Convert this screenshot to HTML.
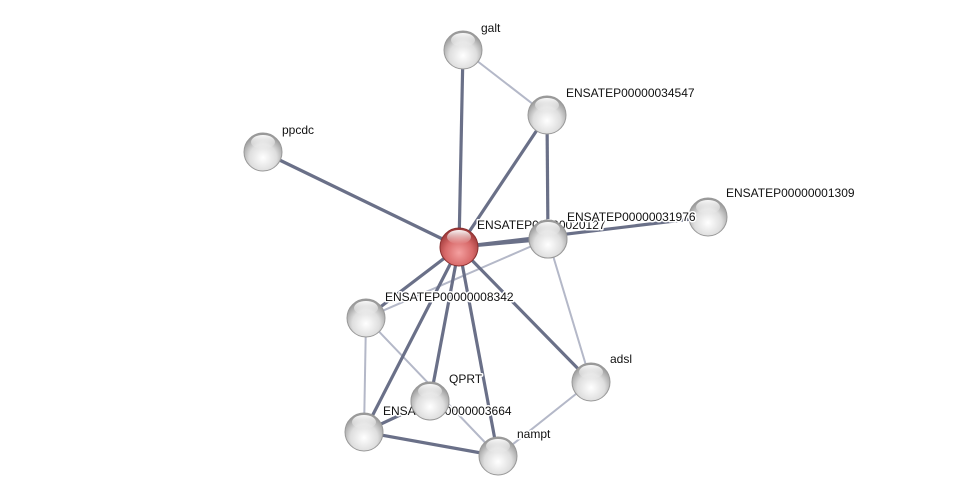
<!DOCTYPE html>
<html><head><meta charset="utf-8"><style>
html,body{margin:0;padding:0;background:#fff;}
svg{display:block;}
text{font-family:"Liberation Sans",sans-serif;font-size:12px;fill:#111;paint-order:stroke;stroke:#fff;stroke-width:3px;stroke-linejoin:round;}
</style></head><body>
<svg width="975" height="501" viewBox="0 0 975 501" xmlns="http://www.w3.org/2000/svg">
<defs>
<radialGradient id="g" cx="50%" cy="65%" r="60%">
<stop offset="0" stop-color="#ffffff"/><stop offset="0.6" stop-color="#dedede"/><stop offset="1" stop-color="#9a9a9a"/>
</radialGradient>
<radialGradient id="r" cx="50%" cy="65%" r="60%">
<stop offset="0" stop-color="#f4a0a0"/><stop offset="0.6" stop-color="#d86a6a"/><stop offset="1" stop-color="#a03a3a"/>
</radialGradient>
<linearGradient id="h" x1="0" y1="0" x2="0" y2="1">
<stop offset="0" stop-color="#fff" stop-opacity="0.95"/><stop offset="1" stop-color="#fff" stop-opacity="0"/>
</linearGradient>
<g id="n"><circle r="19" fill="url(#g)" stroke="#999" stroke-width="1"/><ellipse cx="0" cy="-10" rx="12" ry="7" fill="url(#h)"/></g>
<g id="nr"><circle r="19" fill="url(#r)" stroke="#8a3030" stroke-width="1"/><ellipse cx="0" cy="-10" rx="12" ry="7" fill="url(#h)"/></g>
</defs>
<g stroke="#b4b8c8" stroke-width="2" fill="none">
<line x1="463" y1="50" x2="547" y2="115"/>
<line x1="548" y1="239" x2="591" y2="382"/>
<line x1="548" y1="239" x2="366" y2="318"/>
<line x1="366" y1="318" x2="364" y2="432"/>
<line x1="366" y1="318" x2="498" y2="456"/>
<line x1="591" y1="382" x2="498" y2="456"/>
</g>
<g stroke="#6a7088" stroke-width="3.2" fill="none">
<line x1="459" y1="247" x2="463" y2="50"/>
<line x1="459" y1="247" x2="547" y2="115"/>
<line x1="547" y1="115" x2="548" y2="239"/>
<line x1="459" y1="247" x2="263" y2="152"/>
<line x1="459" y1="247" x2="708" y2="217"/>
<line x1="459" y1="247" x2="548" y2="239"/>
<line x1="459" y1="247" x2="366" y2="318"/>
<line x1="459" y1="247" x2="430" y2="401"/>
<line x1="459" y1="247" x2="364" y2="432"/>
<line x1="459" y1="247" x2="498" y2="456"/>
<line x1="459" y1="247" x2="591" y2="382"/>
<line x1="364" y1="432" x2="430" y2="401"/>
<line x1="364" y1="432" x2="498" y2="456"/>
</g>
<use href="#n" x="463" y="50"/>
<use href="#n" x="547" y="115"/>
<use href="#n" x="263" y="152"/>
<use href="#n" x="708" y="217"/>
<use href="#nr" x="459" y="247"/>
<use href="#n" x="548" y="239"/>
<use href="#n" x="366" y="318"/>
<use href="#n" x="591" y="382"/>
<use href="#n" x="364" y="432"/>
<use href="#n" x="430" y="401"/>
<use href="#n" x="498" y="456"/>
<text x="481" y="32">galt</text>
<text x="566" y="97">ENSATEP00000034547</text>
<text x="282" y="134">ppcdc</text>
<text x="726" y="197">ENSATEP00000001309</text>
<text x="477" y="229">ENSATEP00000020127</text>
<use href="#n" x="548" y="239"/>
<text x="567" y="221">ENSATEP00000031976</text>
<text x="385" y="301">ENSATEP00000008342</text>
<text x="610" y="363">adsl</text>
<text x="383" y="415">ENSATEP00000003664</text>
<use href="#n" x="430" y="401"/>
<text x="449" y="383">QPRT</text>
<text x="517" y="438">nampt</text>
</svg>
</body></html>
